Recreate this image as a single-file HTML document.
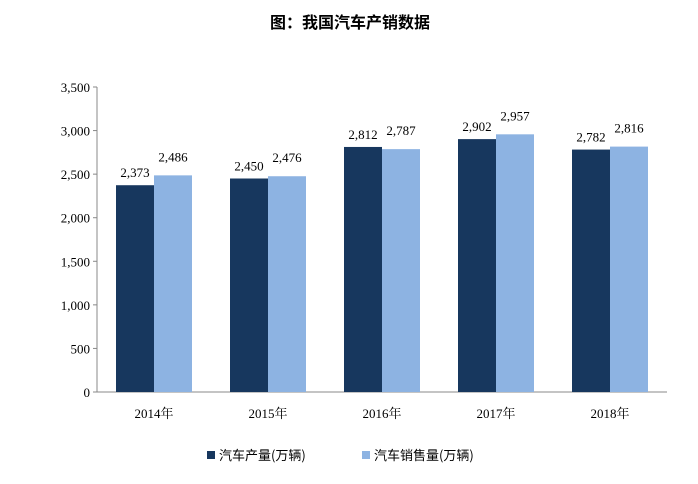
<!DOCTYPE html>
<html><head><meta charset="utf-8"><style>
body{margin:0;background:#fff;}
svg text{font-family:"Liberation Serif","Noto Serif CJK SC",serif;}
</style></head><body>
<svg width="698" height="479" xmlns="http://www.w3.org/2000/svg">
<text x="350" y="28" text-anchor="middle" font-size="16" font-weight="bold" fill="#000" style="font-family:'Noto Sans CJK SC',sans-serif">图：我国汽车产销数据</text>
<g id="axes"></g><g id="bars"></g><g id="labels"></g>
<g>
<rect x="207" y="451" width="8" height="8" fill="#17375e"/>
<text x="219" y="460" font-size="13" fill="#000" style="font-family:'Noto Sans CJK SC',sans-serif">汽车产量(万辆)</text>
<rect x="362" y="451" width="8" height="8" fill="#8db3e2"/>
<text x="374" y="460" font-size="13" fill="#000" style="font-family:'Noto Sans CJK SC',sans-serif">汽车销售量(万辆)</text>
</g>
</svg>
<script>
const categories=["2014年","2015年","2016年","2017年","2018年"];
const production=[2373,2450,2812,2902,2782];
const sales=[2486,2476,2787,2957,2816];
const yTicks=[0,500,1000,1500,2000,2500,3000,3500];
const NS="http://www.w3.org/2000/svg";
const x0=97,x1=667,yTop=87,yBot=392,yMax=3500;
const y=v=>yBot-(v/yMax)*(yBot-yTop);
const band=(x1-x0)/categories.length;
const cx=i=>x0+band*(i+0.5);
function mk(tag,attrs,parent){const e=document.createElementNS(NS,tag);for(const k in attrs)e.setAttribute(k,attrs[k]);document.getElementById(parent).appendChild(e);return e;}
const fmt=v=>v.toLocaleString('en-US');
yTicks.forEach(t=>{
 const tx=mk('text',{x:x0-7,y:y(t)+5,'text-anchor':'end','font-size':13,fill:'#000'},'axes');
 tx.textContent=fmt(t);
 
 
 const tk=mk('line',{x1:x0-4,x2:x0,y1:y(t),y2:y(t),stroke:'#888'},'axes');
 
 
});
const ya=mk('line',{x1:x0,x2:x0,y1:yTop,y2:yBot,stroke:'#888'},'axes');


const xa=mk('line',{x1:x0,x2:x1,y1:yBot,y2:yBot,stroke:'#888'},'axes');


const bw=38;
categories.forEach((c,i)=>{
 const xl=mk('text',{x:cx(i),y:yBot+26,'text-anchor':'middle','font-size':13,fill:'#000'},'axes');
 xl.textContent=c;
 
 
 [[production,'#17375e',-bw,'production'],[sales,'#8db3e2',0,'sales']].forEach(([arr,col,off,nm])=>{
  const v=arr[i];
  const r=mk('rect',{x:cx(i)+off,y:y(v),width:bw,height:yBot-y(v),fill:col},'bars');
  
  
  const l=mk('text',{x:cx(i)+off+bw/2,y:y(v)-(nm==='sales'?14:8),'text-anchor':'middle','font-size':13,fill:'#000'},'labels');
  l.textContent=fmt(v);
  
  
 });
});
</script>
</body></html>
